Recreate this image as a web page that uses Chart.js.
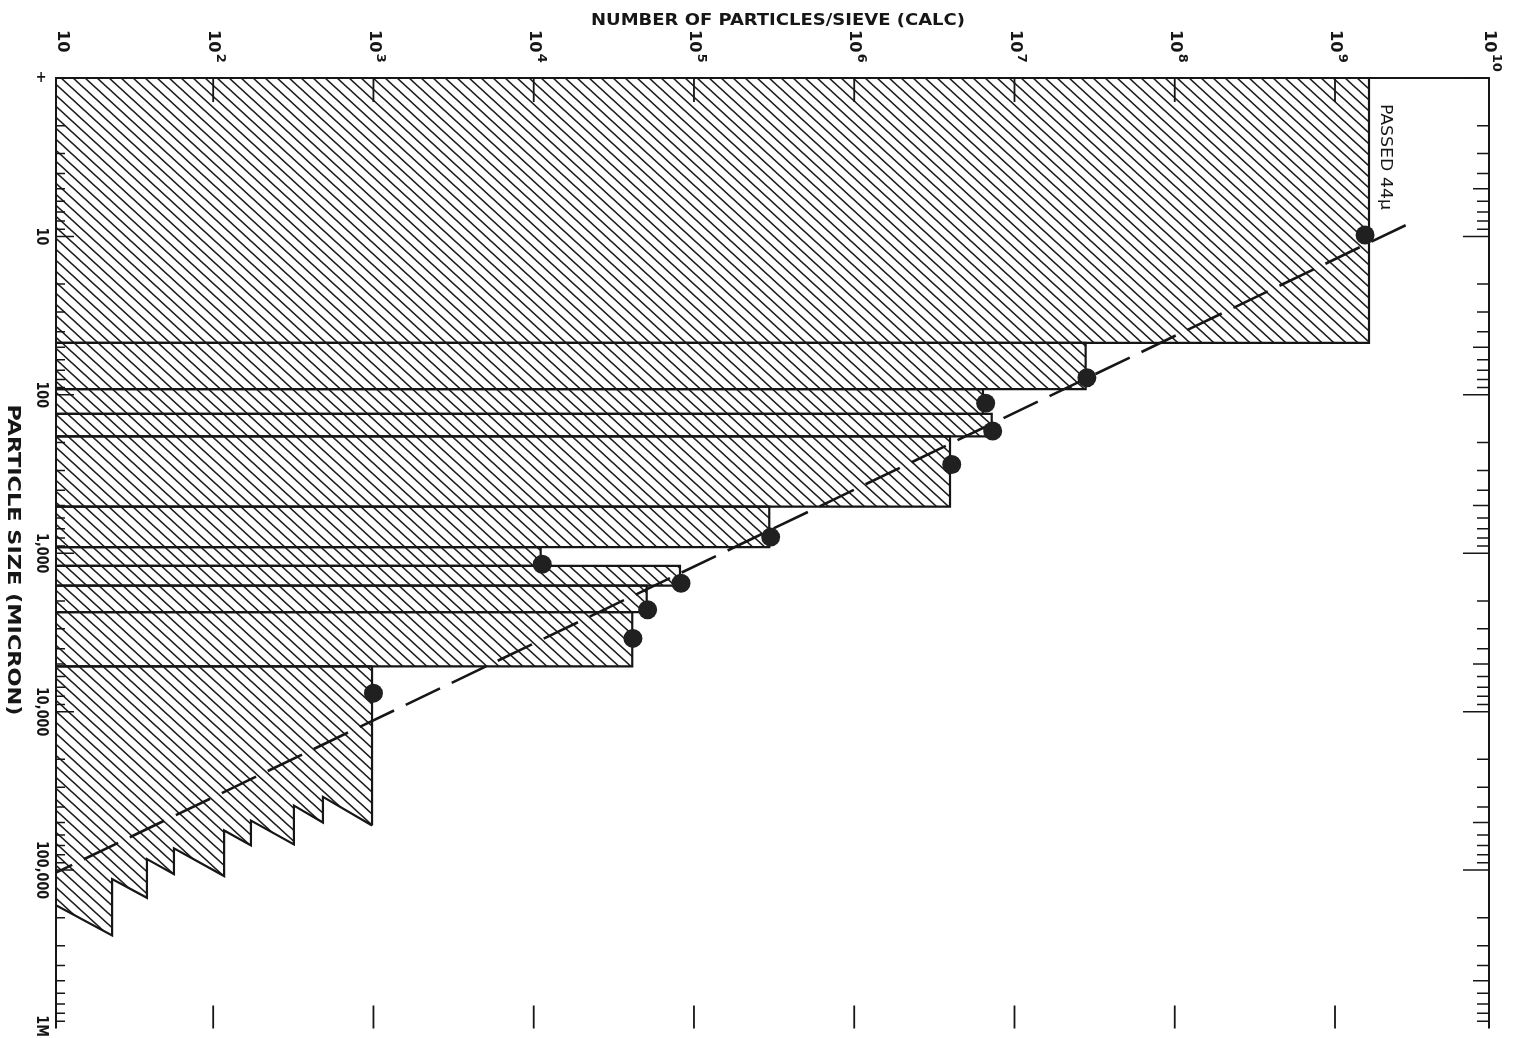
<!DOCTYPE html>
<html>
<head>
<meta charset="utf-8">
<script src="https://cdn.jsdelivr.net/npm/chart.js@4.4.1/dist/chart.umd.min.js"></script>
<style>
  html, body { margin: 0; padding: 0; background: #fff; }
  #wrap { width: 1515px; height: 1038px; }
</style>
</head>
<body>
<div id="wrap"><canvas id="sieve-chart" width="1515" height="1038"></canvas></div>
<script>
// --- values ---
// sieve bins: size edges (micron) and calculated particles per sieve
const binEdges = [1, 47, 92, 132, 183, 508, 914, 1200, 1600, 2350, 5180];
const binCounts = [1.63e9, 2.78e7, 6.36e6, 7.21e6, 3.96e6, 2.95e5, 1.105e4, 8.18e4, 5.07e4, 4.12e4];

// last (open ended) bin, drawn with a jagged lower edge
const tailCount = 980;
const tailCounts = [980, 484, 484, 319, 319, 172, 172, 117, 117, 56.9, 56.9, 38.6, 38.6, 23.4, 23.4, 10];
const tailSizes = [52300, 34500, 50100, 39200, 68800, 48700, 69800, 56200, 109000, 72900, 106000, 85300, 149600, 113800, 258500, 163000];

// measured points
const pointCounts = [1.54e9, 2.83e7, 6.61e6, 7.31e6, 4.06e6, 3.01e5, 1.13e4, 8.30e4, 5.14e4, 4.16e4, 1000];
const pointSizes = [9.8, 78, 113, 169, 275, 791, 1172, 1546, 2271, 3447, 7640];

// dashed fit line
const fitCounts = [2.76e9, 10];
const fitSizes = [8.5, 1.06e5];

// axes
const countTicks = [1e1, 1e2, 1e3, 1e4, 1e5, 1e6, 1e7, 1e8, 1e9, 1e10];
const countTickExp = ['', '2', '3', '4', '5', '6', '7', '8', '9', '10'];
const sizeTicks = [1, 10, 100, 1e3, 1e4, 1e5, 1e6];
const sizeTickLabels = ['+', '10', '100', '1,000', '10,000', '100,000', '1M'];

const COUNT_MIN = 10.45;
const COUNT_MAX = 9.14e9;
const SIZE_MIN = 1;
const SIZE_MAX = 1e6;
const LEFT_EDGE = 10; // bars start at the left axis

const INK = '#161616';
const FONT = '"DejaVu Sans Condensed", "Liberation Sans Narrow", "DejaVu Sans", sans-serif';

const makeHatch = () => {
  const W = 12, H = 11;
  const c = document.createElement('canvas');
  c.width = W; c.height = H;
  const g = c.getContext('2d');
  g.strokeStyle = '#1c1c1c';
  g.lineWidth = 1.6;
  for (let k = -1; k <= 1; k++) {
    g.beginPath();
    g.moveTo(k * W - W, -H);
    g.lineTo(k * W + 2 * W, 2 * H);
    g.stroke();
  }
  return g.createPattern(c, 'repeat');
};
const hatch = makeHatch();

const barStyle = {
  type: 'line',
  borderColor: INK,
  borderWidth: 2.2,
  backgroundColor: hatch,
  fill: 'shape',
  pointRadius: 0,
  tension: 0,
  borderJoinStyle: 'miter',
};

const binSets = binCounts.map((c, i) => ({
  ...barStyle,
  data: [
    { x: LEFT_EDGE, y: binEdges[i] },
    { x: c, y: binEdges[i] },
    { x: c, y: binEdges[i + 1] },
    { x: LEFT_EDGE, y: binEdges[i + 1] },
    { x: LEFT_EDGE, y: binEdges[i] },
  ],
}));

const tailTop = binEdges[binEdges.length - 1];
const tailData = [
  { x: LEFT_EDGE, y: tailTop },
  { x: tailCount, y: tailTop },
  ...tailCounts.map((c, i) => ({ x: c, y: tailSizes[i] })),
];

// hatched area of the open bin (no outline, one segment so 'shape' closes it)
const tailFillSet = {
  ...barStyle,
  borderWidth: 0,
  borderColor: 'rgba(0,0,0,0)',
  data: tailData,
};

// its outline: right edge dashed
const tailEdgeSet = {
  type: 'line',
  data: tailData,
  borderColor: INK,
  borderWidth: 2.2,
  pointRadius: 0,
  fill: false,
  tension: 0,
  segment: { borderDash: (ctx) => (ctx.p0DataIndex === 1 ? [7, 5] : undefined) },
};

const pointSet = {
  type: 'line',
  showLine: false,
  data: pointCounts.map((c, i) => ({ x: c, y: pointSizes[i] })),
  pointRadius: 9.5,
  pointBackgroundColor: '#202020',
  pointBorderWidth: 0,
  clip: false,
};

const fitSet = {
  type: 'line',
  data: fitCounts.map((c, i) => ({ x: c, y: fitSizes[i] })),
  borderColor: INK,
  borderWidth: 2.6,
  borderDash: [38, 13],
  pointRadius: 0,
  fill: false,
};

// rotated / fitted text helper
const drawText = (ctx, text, x, y, { font, angle = 0, width, align = 'center', squeeze = 1 }) => {
  ctx.save();
  ctx.translate(x, y);
  ctx.rotate(angle);
  ctx.font = font;
  const w = ctx.measureText(text).width;
  ctx.scale(width ? width / w : squeeze, 1);
  ctx.textAlign = align;
  ctx.textBaseline = 'middle';
  ctx.fillStyle = INK;
  ctx.fillText(text, 0, 0);
  ctx.restore();
};

const framePlugin = {
  id: 'frame',
  afterDraw(chart) {
    const { ctx, chartArea: a, scales: { x, y } } = chart;
    ctx.save();
    ctx.strokeStyle = INK;
    ctx.lineWidth = 2;

    // box (bottom edge falls off the page)
    ctx.beginPath();
    ctx.moveTo(a.left, a.bottom);
    ctx.lineTo(a.left, a.top);
    ctx.lineTo(a.right, a.top);
    ctx.lineTo(a.right, a.bottom);
    ctx.stroke();

    // size axis ticks, pointing inward on both sides
    ctx.lineWidth = 1.5;
    for (let d = 0; d < 6; d++) {
      for (let m = 1; m <= 9; m++) {
        const py = y.getPixelForValue(m * Math.pow(10, d));
        const lenL = m === 1 ? 18 : 9;
        const lenR = m === 1 ? 26 : (m === 5 ? 16 : 12);
        ctx.beginPath();
        ctx.moveTo(a.left, py); ctx.lineTo(a.left + lenL, py);
        ctx.moveTo(a.right, py); ctx.lineTo(a.right - lenR, py);
        ctx.stroke();
      }
    }

    // count axis ticks, top and bottom
    ctx.lineWidth = 1.8;
    countTicks.forEach((v) => {
      const px = x.getPixelForValue(v);
      if (px <= a.left + 2 || px >= a.right - 2) return;
      ctx.beginPath();
      ctx.moveTo(px, a.top); ctx.lineTo(px, a.top + 24);
      ctx.moveTo(px, a.bottom); ctx.lineTo(px, a.bottom - 23);
      ctx.stroke();
    });
    ctx.restore();

    // count tick labels, turned a quarter clockwise like the original sheet
    countTicks.forEach((v, i) => {
      const px = Math.min(Math.max(x.getPixelForValue(v), a.left + 6), a.right);
      ctx.save();
      ctx.translate(px, 30);
      ctx.rotate(Math.PI / 2);
      ctx.fillStyle = INK;
      ctx.textBaseline = 'middle';
      ctx.textAlign = 'left';
      ctx.font = `bold 15px ${FONT}`;
      ctx.scale(1.2, 1);
      ctx.fillText('10', 0, 0);
      const w = ctx.measureText('10').width;
      if (countTickExp[i]) {
        ctx.font = `bold 12px ${FONT}`;
        ctx.fillText(countTickExp[i], w + 1, -7);
      }
      ctx.restore();
    });

    // size tick labels
    sizeTicks.forEach((v, i) => {
      let py = y.getPixelForValue(v);
      const label = sizeTickLabels[i];
      ctx.save();
      ctx.font = `bold 15px ${FONT}`;
      const half = ctx.measureText(label).width * 0.95 / 2;
      ctx.restore();
      if (label !== '+') py = Math.min(py, chart.height - half - 1);
      drawText(ctx, label, 41, py, {
        font: `bold 15px ${FONT}`,
        angle: label === '+' ? 0 : Math.PI / 2,
        squeeze: 0.95,
      });
    });

    // titles
    drawText(ctx, 'NUMBER OF PARTICLES/SIEVE (CALC)', 778, 21, {
      font: `bold 16px ${FONT}`, width: 374,
    });
    drawText(ctx, 'PARTICLE SIZE (MICRON)', 12, 560, {
      font: `bold 17px ${FONT}`, angle: Math.PI / 2, width: 311,
    });
    drawText(ctx, 'PASSED 44\u03BC', 1385, 104, {
      font: `15px ${FONT}`, angle: Math.PI / 2, width: 106, align: 'left',
    });
  },
};

new Chart(document.getElementById('sieve-chart'), {
  type: 'line',
  data: { datasets: [pointSet, fitSet, tailEdgeSet, tailFillSet, ...binSets] },
  options: {
    responsive: false,
    animation: false,
    events: [],
    layout: { padding: { left: 56, top: 78, right: 26, bottom: 0 } },
    plugins: { legend: { display: false }, tooltip: { enabled: false } },
    scales: {
      x: {
        type: 'logarithmic', display: false, bounds: 'data',
        min: COUNT_MIN, max: COUNT_MAX,
      },
      y: {
        type: 'logarithmic', display: false, bounds: 'data', reverse: true,
        min: SIZE_MIN, max: SIZE_MAX,
      },
    },
  },
  plugins: [framePlugin],
});
</script>
</body>
</html>
